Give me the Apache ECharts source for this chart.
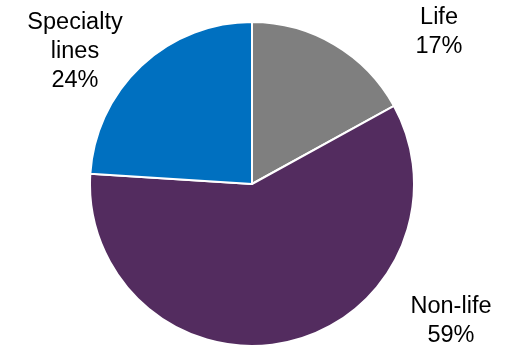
<!DOCTYPE html>
<html><head><meta charset="utf-8">
<script src="https://cdn.jsdelivr.net/npm/echarts@6/dist/echarts.min.js"></script>
<style>html,body{margin:0;padding:0;background:#fff}#c{width:510px;height:347px}</style>
</head><body><div id="c"></div>
<script>
const categories = ['Life', 'Non-life', 'Specialty lines'];
const labelTexts = ['Life', 'Non-life', 'Specialty\nlines'];
const values = [17, 59, 24];
const colors = ['#7F7F7F', '#532C5F', '#0070C0'];
const labelPos = {'Life': [439, 32], 'Non-life': [451, 321], 'Specialty lines': [75, 52]};

const chart = echarts.init(document.getElementById('c'), null, {renderer: 'canvas'});
chart.setOption({
  animation: false,
  series: [{
    type: 'pie',
    center: [252, 184],
    radius: 162,
    startAngle: 90,
    clockwise: true,
    data: categories.map((c, i) => ({name: c, value: values[i], itemStyle: {color: colors[i]}})),
    itemStyle: {borderColor: '#fff', borderWidth: 2},
    label: {
      show: true,
      position: 'outside',
      formatter: p => labelTexts[p.dataIndex] + '\n' + p.value + '%',
      fontFamily: 'Liberation Sans, Arial, sans-serif',
      fontSize: 23.5,
      lineHeight: 29,
      color: '#000',
      align: 'center',
      overflow: 'none'
    },
    labelLine: {show: false},
    labelLayout: function (p) {
      const pos = labelPos[categories[p.dataIndex]];
      return {x: pos[0], y: pos[1], align: 'center', verticalAlign: 'middle'};
    },
    emphasis: {disabled: true}
  }]
});
</script></body></html>
